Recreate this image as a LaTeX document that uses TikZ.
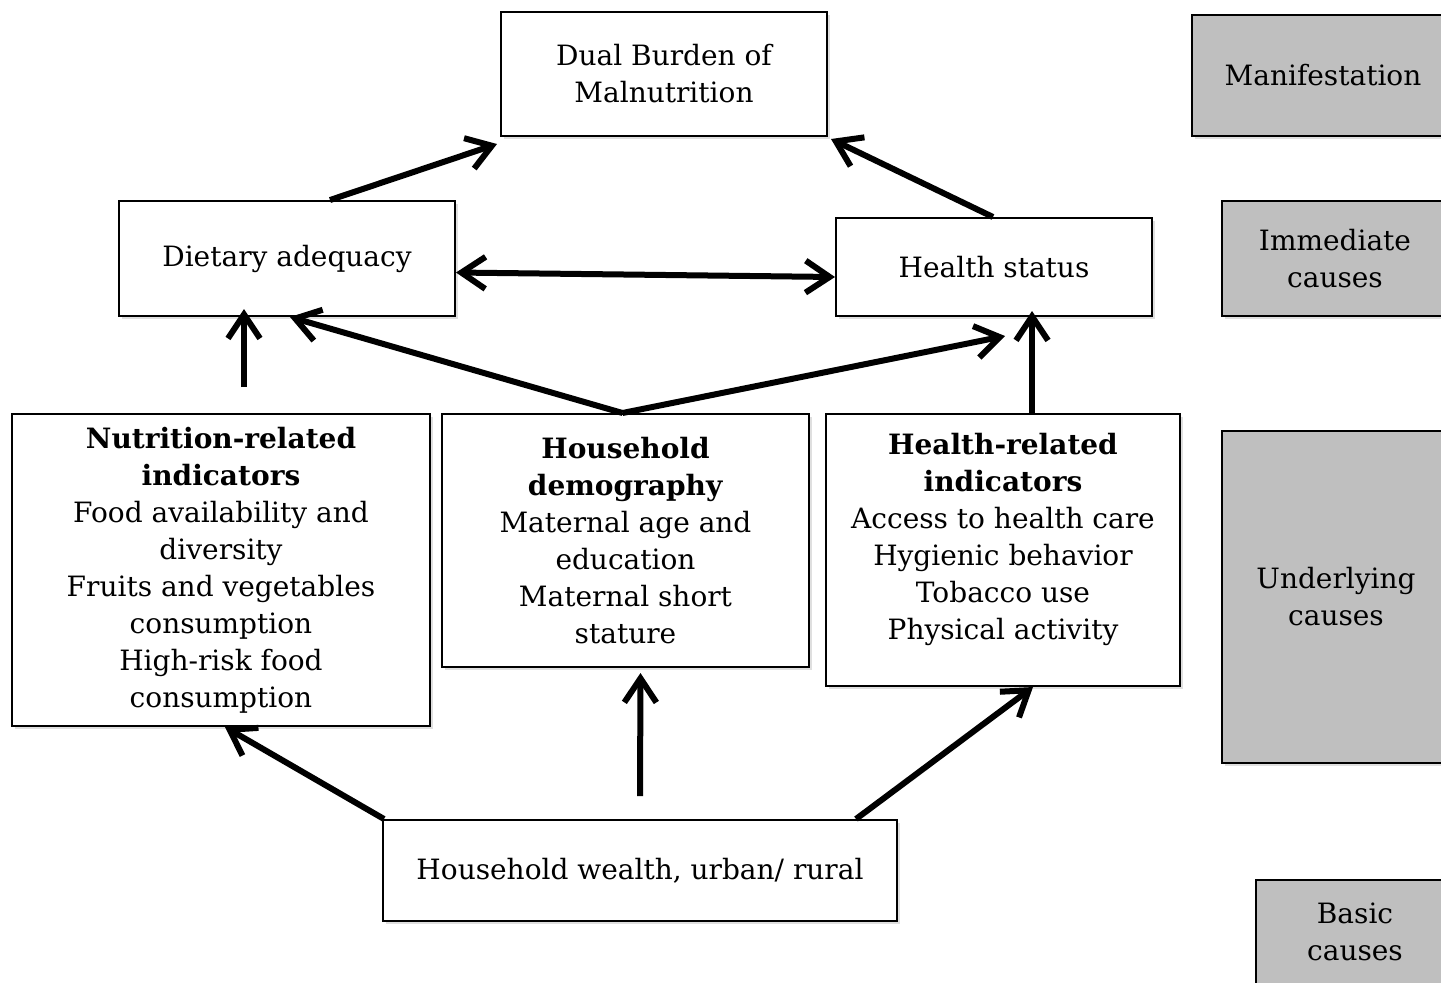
\documentclass[tikz,border=0pt]{standalone}
\usepackage{fontspec}
\setmainfont{DejaVu Serif}
\usepackage{tikz}
\usetikzlibrary{arrows.meta}
\usetikzlibrary{shadows}

\begin{document}
\begin{tikzpicture}[x=0.5pt, y=-0.5pt, >={Straight Barb[length=12pt, width=16pt]},
	box/.style={draw, line width=1pt, fill=white, align=center, inner sep=0pt,
		drop shadow={shadow xshift=1.5pt, shadow yshift=-1.5pt, opacity=0.25}},
	level/.style={box, fill=black!25},
	link/.style={line width=3pt},
	every node/.style={font=\fontsize{14}{18.5}\selectfont}]
				\clip (0,0) rectangle (1441,982);
				\fill[white] (0,0) rectangle (1441,982);
				
				% right column
				\node[level, minimum width=131pt, minimum height=60.5pt] (manif) at (1323,75.5) {Manifestation};
				\node[level, minimum width=113pt, minimum height=57.5pt] (immed) at (1335,258.5) {Immediate\\causes};
				\node[level, minimum width=114pt, minimum height=166pt] (under) at (1336,597) {Underlying\\causes};
				\node[level, minimum width=99pt, minimum height=52.5pt] (basic) at (1355,932) {Basic\\causes};
				
				\node[box, minimum width=163pt, minimum height=62pt] (dual) at (664,74) {Dual Burden of\\Malnutrition};
				\node[box, minimum width=168pt, minimum height=57.5pt] (diet) at (287,258.5) {Dietary adequacy};
				\node[box, minimum width=158pt, minimum height=49pt] (health) at (994,267) {Health status};
				\node[box, minimum width=209pt, minimum height=156pt] (nutr) at (221,570) {\textbf{Nutrition-related}\\\textbf{indicators}\\Food availability and\\diversity\\Fruits and vegetables\\consumption\\High-risk food\\consumption};
				\node[box, minimum width=183.5pt, minimum height=126.5pt] (demo) at (625.5,540.5) {\textbf{Household}\\\textbf{demography}\\Maternal age and\\education\\Maternal short\\stature};
				\node[box, minimum width=177pt, minimum height=136pt] (hrel) at (1003,550) {\textbf{Health-related}\\\textbf{indicators}\\Access to health care\\Hygienic behavior\\Tobacco use\\Physical activity\\[-5pt]{}};
				\node[box, minimum width=257pt, minimum height=50.5pt] (wealth) at (640,870.5) {Household wealth, urban/ rural};
				
				\draw[link, ->] ([xshift=21.5pt]diet.north) -- ([shift={(-1.5pt,-3.5pt)}]dual.south west);
				\draw[link, ->] ([xshift=-0.5pt]health.north) -- ([shift={(1.5pt,-1pt)}]dual.south east);
				\draw[link, <->] ([yshift=-7pt]diet.east) -- ([yshift=-5pt]health.west);
				\draw[link, ->] ([shift={(11.5pt,13pt)}]nutr.north) -- ([shift={(-21.5pt,4pt)}]diet.south);
				\draw[link, ->] ([xshift=-1.5pt]demo.north) -- ([xshift=1.5pt]diet.south);
				\draw[link, ->] ([xshift=-1.5pt]demo.north) -- ([shift={(5.5pt,-9.5pt)}]health.south);
				\draw[link, ->] ([xshift=14.5pt]hrel.north) -- ([shift={(19pt,3pt)}]health.south);
				\draw[link, ->] ([xshift=1pt]wealth.north west) -- ([xshift=2pt]nutr.south);
				\draw[link, ->] ([yshift=11.5pt]wealth.north) -- ([shift={(7.5pt,-2.5pt)}]demo.south);
				\draw[link, ->] ([xshift=-21pt]wealth.north east) -- ([xshift=15pt]hrel.south);
			\end{tikzpicture}
\end{document}
